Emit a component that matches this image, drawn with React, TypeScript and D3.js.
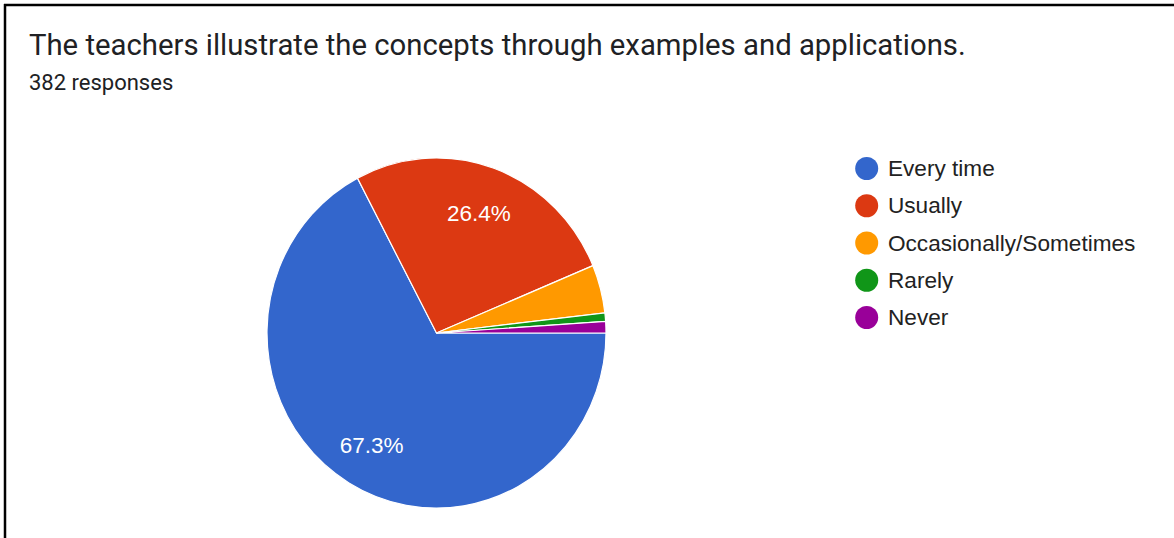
import React from "react";
import * as d3 from "d3";

const categories = ["Every time", "Usually", "Occasionally/Sometimes", "Rarely", "Never"];
const counts = [257, 101, 17, 3, 4];
const colors = ["#3366CC", "#DC3912", "#FF9900", "#109618", "#990099"];
const title = "The teachers illustrate the concepts through examples and applications.";
const subtitle = "382 responses";

export default function App() {
  const W = 1174, H = 538;
  const cx = 436.5, cy = 333, R = 169.5, sy = 1.033;
  const total = d3.sum(counts);
  const pie = d3.pie<number>().sort(null).value((d) => d)
    .startAngle(Math.PI / 2).endAngle(Math.PI / 2 + 2 * Math.PI);
  const arcs = pie(counts);
  const arc = d3.arc<d3.PieArcDatum<number>>().innerRadius(0).outerRadius(R);
  const labelArc = d3.arc<d3.PieArcDatum<number>>().innerRadius(0.74 * R * 2).outerRadius(0);
  const legendY = d3.scalePoint<string>().domain(categories).range([168.5, 317.5]);
  return (
    <svg width={W} height={H} style={{ position: "absolute", left: 0, top: 0, background: "#fff" }}>
      <rect x={0} y={0} width={W} height={H} fill="#fff" />
      <line x1={4} y1={5} x2={W} y2={5} stroke="#000" strokeWidth={2.5} />
      <line x1={5} y1={4} x2={5} y2={H} stroke="#000" strokeWidth={2.5} />
      <text x={29} y={55} fontFamily="Roboto" fontSize={29.3} fill="#202124">{title}</text>
      <text x={29} y={90} fontFamily="Roboto" fontSize={22} fill="#202124">{subtitle}</text>
      <g transform={`translate(${cx},${cy}) scale(1,${sy})`}>
        {arcs.map((a, i) => (
          <path key={i} d={arc(a) || ""} fill={colors[i]} stroke="#fff" strokeWidth={1.2} />
        ))}
      </g>
      {arcs.map((a, i) => {
        const pct = a.data / total;
        if (pct < 0.05) return null;
        const [lx, ly] = labelArc.centroid(a);
        return (
          <text key={i} x={cx + lx} y={cy + ly * sy + 2} textAnchor="middle" dominantBaseline="central"
            fontFamily="Liberation Sans, Arial" fontSize={22.5} fill="#fff">
            {(pct * 100).toFixed(1) + "%"}
          </text>
        );
      })}
      {categories.map((c, i) => (
        <g key={c} transform={`translate(0,${legendY(c)})`}>
          <circle cx={866.7} cy={0} r={11.5} fill={colors[i]} />
          <text x={888} y={0} dominantBaseline="central" fontFamily="Liberation Sans, Arial" fontSize={22.6} fill="#222">{c}</text>
        </g>
      ))}
    </svg>
  );
}
